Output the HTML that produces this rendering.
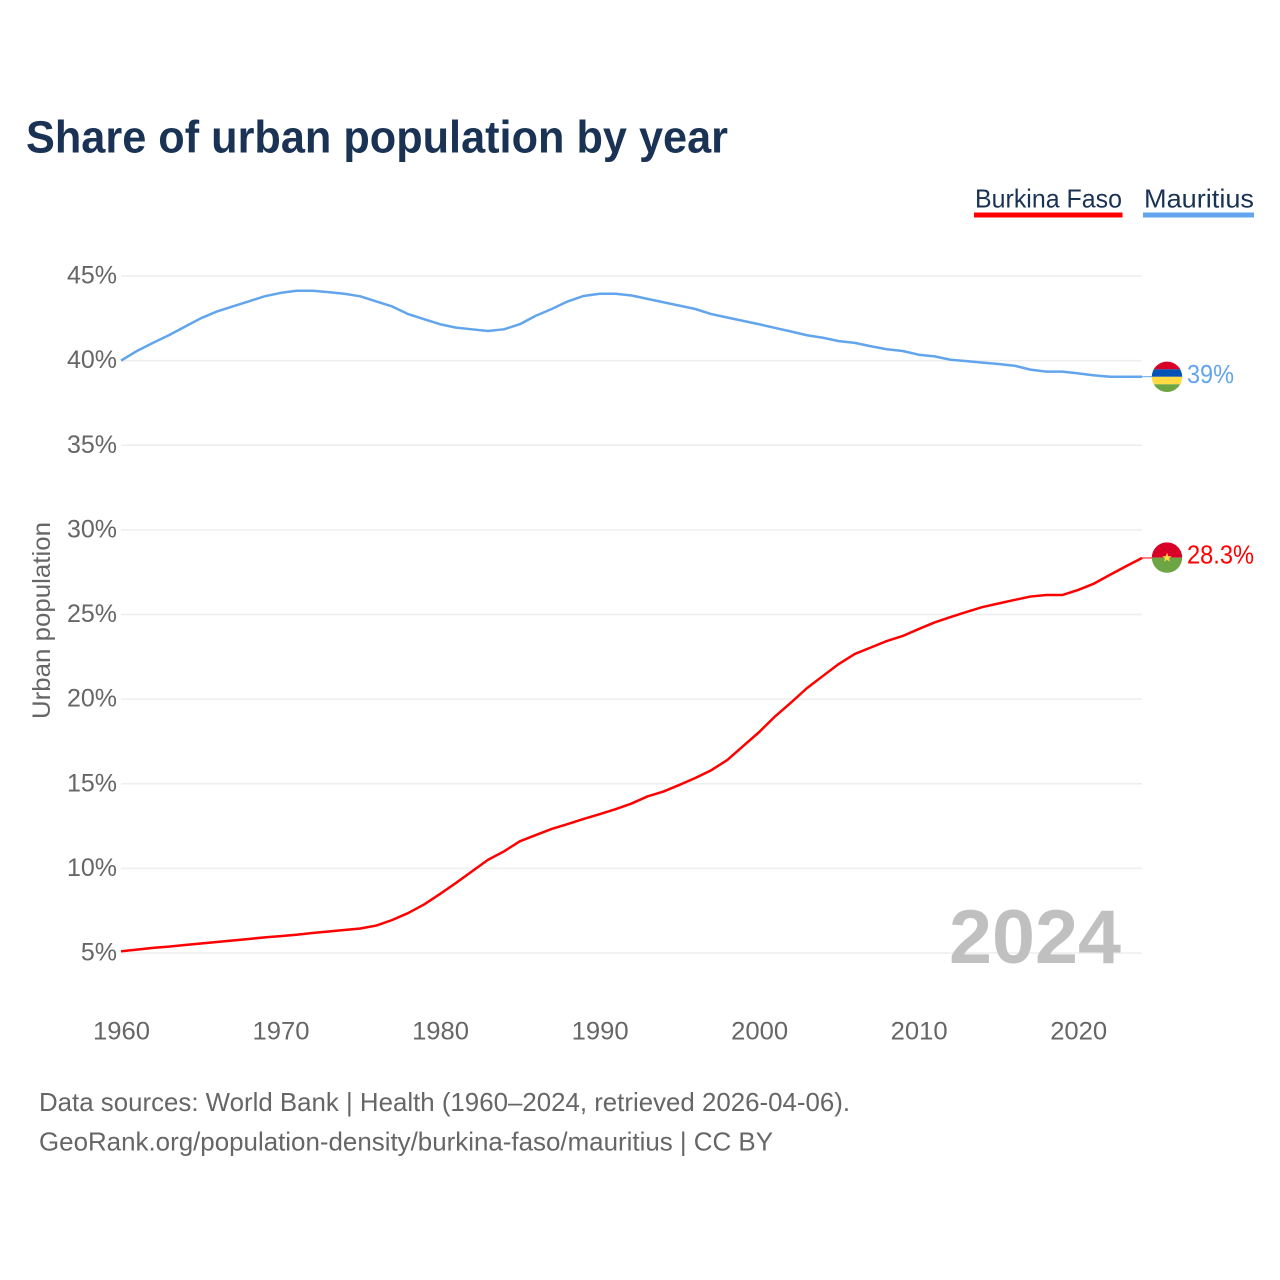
<!DOCTYPE html>
<html lang="en">
<head>
<meta charset="utf-8">
<title>Share of urban population by year</title>
<style>
html,body{margin:0;padding:0;background:#fff;}
svg{display:block;font-family:"Liberation Sans",sans-serif;}
</style>
</head>
<body>
<svg id="chart" xmlns="http://www.w3.org/2000/svg" width="1280" height="1280" viewBox="0 0 1280 1280">
  <rect x="0" y="0" width="1280" height="1280" fill="#ffffff"/>
  <text x="26" y="152.5" font-size="45" font-weight="700" fill="#1a3354" textLength="702" lengthAdjust="spacingAndGlyphs">Share of urban population by year</text>

  <g>
    <g>
      <text x="975" y="207.5" font-size="26" fill="#1a3354" textLength="147" lengthAdjust="spacingAndGlyphs">Burkina Faso</text>
      <rect x="974" y="212.5" width="148.5" height="5" fill="#ff0000"/>
    </g>
    <g>
      <text x="1144" y="207.5" font-size="26" fill="#1a3354" textLength="110" lengthAdjust="spacingAndGlyphs">Mauritius</text>
      <rect x="1143" y="212.5" width="111" height="5" fill="#62a5ec"/>
    </g>
  </g>

  <g id="grid"></g>
  <g id="y-ticks"></g>
  <g id="x-ticks"></g>

  <text transform="translate(50,620.5) rotate(-90)" text-anchor="middle" font-size="25" fill="#666666" textLength="197" lengthAdjust="spacingAndGlyphs">Urban population</text>

  <text x="1121" y="963" text-anchor="end" font-size="76" font-weight="700" fill="#c0c0c0" textLength="172" lengthAdjust="spacingAndGlyphs">2024</text>

  <g id="series"></g>

  <g>
    <clipPath id="clip-mu"><circle cx="1167" cy="376.8" r="15.2"/></clipPath>
    <g clip-path="url(#clip-mu)">
      <rect x="1150" y="360" width="34" height="9.3" fill="#d80027"/>
      <rect x="1150" y="369.3" width="34" height="7.5" fill="#0052b4"/>
      <rect x="1150" y="376.8" width="34" height="7.5" fill="#ffda44"/>
      <rect x="1150" y="384.3" width="34" height="9" fill="#6da544"/>
    </g>
  </g>
  <g>
    <clipPath id="clip-bf"><circle cx="1167" cy="557.6" r="15.2"/></clipPath>
    <g clip-path="url(#clip-bf)">
      <rect x="1150" y="541" width="34" height="16.6" fill="#d80027"/>
      <rect x="1150" y="557.6" width="34" height="16.6" fill="#6da544"/>
    </g>
    <polygon points="1167,552.8 1168.3,556.2 1171.8,556.2 1169,558.4 1170,561.8 1167,559.8 1164,561.8 1165,558.4 1162.2,556.2 1165.7,556.2" fill="#ffda44"/>
  </g>

  <text x="1187" y="383" font-size="25.5" fill="#62a5ec" textLength="47" lengthAdjust="spacingAndGlyphs">39%</text>
  <text x="1187" y="563.5" font-size="25.5" fill="#ff0000" textLength="67" lengthAdjust="spacingAndGlyphs">28.3%</text>

  <text x="39" y="1111" font-size="26" fill="#666666" textLength="811" lengthAdjust="spacingAndGlyphs">Data sources: World Bank | Health (1960–2024, retrieved 2026-04-06).</text>
  <text x="39" y="1150.5" font-size="26" fill="#666666" textLength="734" lengthAdjust="spacingAndGlyphs">GeoRank.org/population-density/burkina-faso/mauritius | CC BY</text>
</svg>
<script>
const years = [1960,1961,1962,1963,1964,1965,1966,1967,1968,1969,1970,1971,1972,1973,1974,1975,1976,1977,1978,1979,1980,1981,1982,1983,1984,1985,1986,1987,1988,1989,1990,1991,1992,1993,1994,1995,1996,1997,1998,1999,2000,2001,2002,2003,2004,2005,2006,2007,2008,2009,2010,2011,2012,2013,2014,2015,2016,2017,2018,2019,2020,2021,2022,2023,2024];
const mauritiusValues = [40.0,40.57,41.05,41.5,42.0,42.5,42.9,43.2,43.5,43.8,44.0,44.13,44.13,44.05,43.95,43.8,43.5,43.2,42.75,42.45,42.15,41.95,41.85,41.75,41.85,42.15,42.65,43.05,43.5,43.82,43.95,43.95,43.85,43.65,43.45,43.25,43.05,42.75,42.55,42.35,42.15,41.93,41.72,41.5,41.35,41.15,41.05,40.85,40.67,40.57,40.35,40.25,40.05,39.97,39.88,39.8,39.7,39.47,39.35,39.35,39.25,39.13,39.05,39.05,39.05];
const burkinaValues = [5.1,5.2,5.3,5.38,5.47,5.56,5.65,5.74,5.83,5.92,6.0,6.08,6.18,6.27,6.36,6.45,6.62,6.95,7.36,7.87,8.49,9.14,9.82,10.5,11.0,11.6,11.97,12.33,12.62,12.92,13.2,13.5,13.83,14.25,14.54,14.93,15.34,15.8,16.4,17.23,18.05,18.98,19.8,20.65,21.37,22.08,22.67,23.05,23.43,23.73,24.14,24.53,24.85,25.15,25.44,25.65,25.86,26.06,26.15,26.15,26.45,26.83,27.35,27.85,28.34];
const yTickValues = [5,10,15,20,25,30,35,40,45];
const xTickValues = [1960,1970,1980,1990,2000,2010,2020];

const NS = 'http://www.w3.org/2000/svg';
function xScale(year) { return 121 + (year - 1960) * (1142 - 121) / 64; }
function yScale(value) { return 953 - (value - 5) * (953 - 276) / 40; }

const gridGroup = document.getElementById('grid');
const yTickGroup = document.getElementById('y-ticks');
const xTickGroup = document.getElementById('x-ticks');
const seriesGroup = document.getElementById('series');

yTickValues.forEach(function (v) {
  const line = document.createElementNS(NS, 'line');
  
  
  line.setAttribute('x1', xScale(1960));
  line.setAttribute('x2', xScale(2024));
  line.setAttribute('y1', yScale(v));
  line.setAttribute('y2', yScale(v));
  line.setAttribute('stroke', '#eeeeee');
  line.setAttribute('stroke-width', '1.5');
  gridGroup.appendChild(line);

  const label = document.createElementNS(NS, 'text');
  
  
  label.setAttribute('x', 117);
  label.setAttribute('y', yScale(v) + 7.5);
  label.setAttribute('text-anchor', 'end');
  label.setAttribute('font-size', '25');
  label.setAttribute('fill', '#666666');
  label.textContent = v + '%';
  yTickGroup.appendChild(label);
});

xTickValues.forEach(function (year) {
  const label = document.createElementNS(NS, 'text');
  
  
  label.setAttribute('x', xScale(year) + 0.5);
  label.setAttribute('y', 1039.5);
  label.setAttribute('text-anchor', 'middle');
  label.setAttribute('font-size', '25');
  label.setAttribute('fill', '#666666');
  label.setAttribute('textLength', '57');
  label.setAttribute('lengthAdjust', 'spacingAndGlyphs');
  label.textContent = String(year);
  xTickGroup.appendChild(label);
});

function linePoints(values) {
  return values.map(function (v, i) {
    return xScale(years[i]).toFixed(2) + ',' + yScale(v).toFixed(2);
  }).join(' ');
}

const mauritiusLine = document.createElementNS(NS, 'polyline');


mauritiusLine.setAttribute('points', linePoints(mauritiusValues));
mauritiusLine.setAttribute('fill', 'none');
mauritiusLine.setAttribute('stroke', '#62a5ec');
mauritiusLine.setAttribute('stroke-width', '2.5');
mauritiusLine.setAttribute('stroke-linejoin', 'round');
seriesGroup.appendChild(mauritiusLine);

const burkinaLine = document.createElementNS(NS, 'polyline');


burkinaLine.setAttribute('points', linePoints(burkinaValues));
burkinaLine.setAttribute('fill', 'none');
burkinaLine.setAttribute('stroke', '#ff0000');
burkinaLine.setAttribute('stroke-width', '2.5');
burkinaLine.setAttribute('stroke-linejoin', 'round');
seriesGroup.appendChild(burkinaLine);

const mauritiusConnector = document.createElementNS(NS, 'line');


mauritiusConnector.setAttribute('x1', xScale(2024));
mauritiusConnector.setAttribute('x2', 1152);
mauritiusConnector.setAttribute('y1', yScale(mauritiusValues[mauritiusValues.length - 1]));
mauritiusConnector.setAttribute('y2', yScale(mauritiusValues[mauritiusValues.length - 1]));
mauritiusConnector.setAttribute('stroke', '#62a5ec');
mauritiusConnector.setAttribute('stroke-width', '1');
seriesGroup.appendChild(mauritiusConnector);

const burkinaConnector = document.createElementNS(NS, 'line');


burkinaConnector.setAttribute('x1', xScale(2024));
burkinaConnector.setAttribute('x2', 1152);
burkinaConnector.setAttribute('y1', yScale(burkinaValues[burkinaValues.length - 1]));
burkinaConnector.setAttribute('y2', yScale(burkinaValues[burkinaValues.length - 1]));
burkinaConnector.setAttribute('stroke', '#ff0000');
burkinaConnector.setAttribute('stroke-width', '1');
seriesGroup.appendChild(burkinaConnector);
</script>
</body>
</html>
